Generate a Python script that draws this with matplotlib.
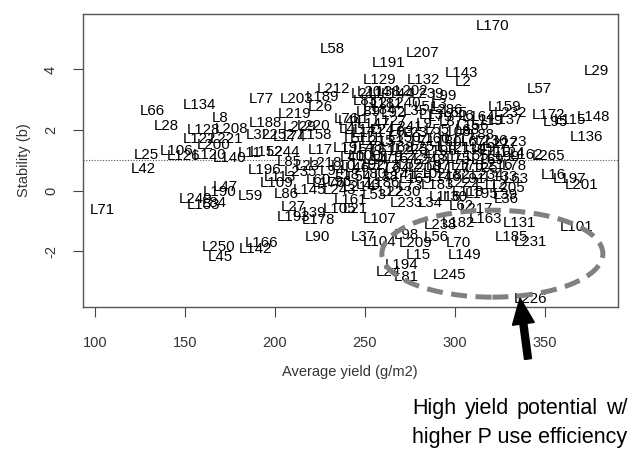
import matplotlib
matplotlib.use("Agg")
import matplotlib.pyplot as plt
from matplotlib.patches import Ellipse, FancyArrow

plt.rcParams['font.family'] = ['Liberation Sans', 'DejaVu Sans']

# line names, average yield (g/m2) and stability (b)
line_names = [
    'L58', 'L212', 'L203', 'L189', 'L26', 'L77', 'L134', 'L66', 'L28', 'L8',
    'L128', 'L208', 'L122', 'L221', 'L188', 'L219', 'L32', 'L252', 'L229', 'L220',
    'L174', 'L158', 'L76', 'L25', 'L106', 'L126', 'L120', 'L200', 'L140', 'L11',
    'L152', 'L244', 'L17', 'L42', 'L196', 'L235', 'L71', 'L47', 'L190', 'L59',
    'L249', 'L153', 'L84', 'L250', 'L45', 'L142', 'L166', 'L90', 'L27', 'L178',
    'L139', 'L193', 'L86', 'L105', 'L21', 'L16', 'L197', 'L201', 'L101', 'L131',
    'L185', 'L231', 'L163', 'L62', 'L217', 'L238', 'L182', 'L56', 'L70', 'L149',
    'L245', 'L15', 'L194', 'L24', 'L81', 'L104', 'L209', 'L98', 'L37', 'L107',
    'L226', 'L36', 'L162', 'L265', 'L22', 'L230', 'L118', 'L116', 'L214', 'L243',
    'L161', 'L233', 'L34', 'L170', 'L207', 'L191', 'L143', 'L2', 'L132', 'L129',
    'L29', 'L57', 'L99', 'L204', 'L202', 'L159', 'L232', 'L137', 'L164', 'L172',
    'L95', 'L115', 'L148', 'L136', 'L123', 'L286', 'L79', 'L176', 'L145', 'L113',
    'L109',
    # dense cluster (partly hidden labels, positions estimated)
    'L211', 'L138', 'L144', 'L239', 'L83', 'L12', 'L181', 'L240', 'L51', 'L3',
    'L89', 'L184', 'L92', 'L35', 'L13', 'L65', 'L6', 'L44', 'L1', 'L147',
    'L127', 'L241', 'L9', 'L87', 'L156', 'L119', 'L4', 'L114', 'L171', 'L247',
    'L93', 'L237', 'L55', 'L108', 'L68', 'L88', 'L5', 'L111', 'L215', 'L33',
    'L150', 'L7', 'L160', 'L180', 'L117', 'L67', 'L236', 'L227', 'L19', 'L157',
    'L48', 'L61', 'L168', 'L225', 'L251', 'L198', 'L121', 'L130', 'L49', 'L110',
    'L124', 'L40', 'L100', 'L14', 'L179', 'L167', 'L224', 'L248', 'L31', 'L75',
    'L155', 'L169', 'L199', 'L10', 'L46', 'L192', 'L173', 'L64', 'L52', 'L206',
    'L97', 'L177', 'L175', 'L125', 'L216', 'L78', 'L18', 'L54', 'L80', 'L38',
    'L141', 'L165', 'L102', 'L146', 'L82', 'L91', 'L234', 'L133', 'L63', 'L43',
    'L186', 'L73', 'L183', 'L222', 'L112', 'L205', 'L53', 'L30', 'L195', 'L39',
    'L85', 'L23', 'L218', 'L94', 'L60', 'L96',
]

avg_yield = [
    231.8, 232.4, 211.7, 226.5, 225.4, 192.6, 157.8, 132.0, 139.3, 169.4,
    160.2, 175.9, 158.3, 173.2, 194.4, 211.1, 190.7, 201.9, 213.9, 221.3,
    208.3, 222.2, 239.8, 128.7, 145.4, 149.0, 163.9, 165.7, 174.5, 186.1,
    195.4, 204.6, 225.0, 126.9, 194.4, 213.9, 104.3, 172.2, 169.4, 186.1,
    155.6, 160.5, 166.5, 168.5, 169.4, 188.9, 192.6, 223.5, 210.2, 224.1,
    219.4, 210.2, 206.5, 236.1, 244.4, 354.6, 363.9, 370.4, 367.6, 336.1,
    331.5, 341.7, 316.7, 303.7, 312.0, 291.7, 301.9, 289.8, 301.9, 305.6,
    297.2, 279.6, 270.4, 263.0, 273.2, 258.3, 278.3, 273.2, 249.1, 258.3,
    341.7, 328.7, 339.8, 351.9, 264.8, 272.2, 307.4, 294.4, 247.2, 236.0,
    241.7, 273.2, 286.1, 320.9, 282.0, 263.0, 303.7, 304.6, 282.4, 258.3,
    378.7, 346.9, 294.4, 254.6, 275.9, 327.8, 330.6, 328.7, 313.0, 351.9,
    355.6, 363.9, 376.9, 373.1, 330.6, 295.4, 291.7, 229.6, 219.4, 202.8,
    200.9,
    251, 261, 268, 285, 250, 256, 262, 272, 284, 291,
    252, 258, 266, 278, 287, 300, 306, 242, 248, 255,
    264, 273, 283, 298, 310, 318, 240, 247, 252, 262,
    270, 280, 290, 300, 307, 315, 243, 250, 257, 265,
    272, 280, 288, 295, 303, 310, 320, 326, 239, 247,
    253, 260, 268, 276, 284, 292, 300, 308, 316, 322,
    330, 243, 250, 256, 262, 270, 278, 286, 294, 302,
    310, 318, 327, 238, 246, 252, 260, 268, 275, 283,
    291, 299, 307, 315, 323, 333, 240, 247, 255, 262,
    270, 278, 286, 294, 302, 310, 318, 326, 334, 252,
    260, 275, 290, 305, 320, 330, 255, 300, 315, 328,
    208, 218, 228, 232, 224, 236,
]

stability = [
    4.66, 3.37, 3.03, 3.08, 2.75, 3.01, 2.82, 2.62, 2.15, 2.40,
    2.00, 2.02, 1.72, 1.72, 2.22, 2.52, 1.83, 1.85, 2.11, 2.13,
    1.78, 1.83, 2.38, 1.17, 1.30, 1.14, 1.17, 1.50, 1.08, 1.23,
    1.28, 1.28, 1.34, 0.73, 0.68, 0.62, -0.64, 0.13, -0.04, -0.18,
    -0.26, -0.48, -0.42, -1.85, -2.18, -1.91, -1.72, -1.52, -0.53, -0.97,
    -0.75, -0.88, -0.12, -0.59, -0.59, 0.51, 0.40, 0.18, -1.21, -1.08,
    -1.52, -1.69, -0.94, -0.51, -0.59, -1.14, -1.08, -1.52, -1.72, -2.13,
    -2.79, -2.13, -2.46, -2.68, -2.84, -1.69, -1.74, -1.47, -1.52, -0.92,
    -3.56, -0.29, 1.17, 1.14, -0.04, -0.04, -0.04, -0.20, 0.13, 0.02,
    -0.31, -0.42, -0.42, 5.43, 4.55, 4.20, 3.87, 3.59, 3.65, 3.65,
    3.95, 3.37, 3.12, 3.26, 3.29, 2.77, 2.55, 2.33, 2.44, 2.49,
    2.27, 2.33, 2.42, 1.78, 1.61, 2.66, 2.44, 0.24, 0.02, 0.46,
    0.26,
    3.20, 3.25, 3.20, 3.20, 2.95, 2.90, 2.85, 2.90, 2.75, 2.85,
    2.60, 2.65, 2.55, 2.62, 2.50, 2.55, 2.45, 2.30, 2.35, 2.20,
    2.30, 2.10, 2.20, 2.25, 2.15, 2.30, 2.05, 2.00, 1.90, 2.00,
    1.95, 1.90, 2.00, 1.95, 2.00, 1.85, 1.70, 1.75, 1.65, 1.60,
    1.75, 1.65, 1.70, 1.60, 1.70, 1.60, 1.65, 1.55, 1.40, 1.35,
    1.45, 1.30, 1.40, 1.35, 1.45, 1.30, 1.40, 1.35, 1.40, 1.30,
    1.25, 1.10, 1.15, 1.00, 1.10, 1.05, 1.15, 1.00, 1.10, 1.05,
    1.15, 1.00, 1.10, 0.80, 0.75, 0.85, 0.80, 0.70, 0.85, 0.75,
    0.80, 0.70, 0.80, 0.75, 0.85, 0.80, 0.50, 0.45, 0.55, 0.45,
    0.50, 0.40, 0.55, 0.45, 0.50, 0.40, 0.50, 0.45, 0.40, 0.20,
    0.25, 0.15, 0.20, 0.25, 0.20, 0.10, -0.15, -0.20, -0.10, -0.15,
    0.95, 0.80, 0.90, 0.65, 0.35, 0.30,
]

mean_b = 1.0
x_ticks = [100, 150, 200, 250, 300, 350]
y_ticks = [-2, 0, 2, 4]

W, H = 633, 449
fig = plt.figure(figsize=(W / 100, H / 100), dpi=100)
ax = fig.add_axes([83 / W, 1 - 307 / H, (618 - 83) / W, (307 - 14) / H])

for name, xv, yv in zip(line_names, avg_yield, stability):
    ax.text(xv, yv, name, ha='center', va='center', fontsize=10.8, color='black')

ax.axhline(mean_b, color='#555555', linestyle=(0, (1, 1.5)), lw=0.8)

# circled group
ax.add_patch(Ellipse((320.8, -2.08), 122.8, 2.87, fill=False, edgecolor='#808080',
                     lw=3.6, linestyle=(0, (3.2, 1.7)), zorder=3))

ax.set_xlim(93.3, 390.6)
ax.set_ylim(-3.84, 5.83)
ax.set_xticks(x_ticks)
ax.set_yticks(y_ticks)
ax.set_yticklabels([str(v) for v in y_ticks], rotation=90, va='center')
ax.tick_params(direction='out', length=7, width=0.8, colors='#444444',
               labelcolor='#333333', labelsize=10.5)
ax.tick_params(axis='x', pad=14)
ax.tick_params(axis='y', pad=11)
for s in ax.spines.values():
    s.set_color('#555555')
    s.set_linewidth(1.0)

fig.text(350 / W, 1 - 372 / H, 'Average yield (g/m2)', ha='center', va='center',
         fontsize=10.5, color='#333333')
fig.text(24 / W, 1 - 160 / H, 'Stability (b)', ha='center', va='center',
         rotation=90, fontsize=10.5, color='#333333')

# overlay in pixel units for arrow and note
ov = fig.add_axes([0, 0, 1, 1], zorder=5)
ov.set_xlim(0, W)
ov.set_ylim(H, 0)
ov.axis('off')
ov.add_patch(FancyArrow(528, 359, -8, -61, width=7, head_width=22, head_length=26,
                        length_includes_head=True, color='black'))

# first line is justified between x=412 and x=628
renderer = fig.canvas.get_renderer()
words = ['High', 'yield', 'potential', 'w/']
objs = [ov.text(0, 414, w, ha='left', va='baseline', fontsize=15.5, color='black')
        for w in words]
widths = [t.get_window_extent(renderer).width for t in objs]
gap = (628 - 412 - sum(widths)) / (len(words) - 1)
xp = 412
for t, wd in zip(objs, widths):
    t.set_x(xp)
    xp += wd + gap
ov.text(412, 443, 'higher P use efficiency', ha='left', va='baseline',
        fontsize=15.5, color='black')

fig.savefig('out.png', dpi=100)
